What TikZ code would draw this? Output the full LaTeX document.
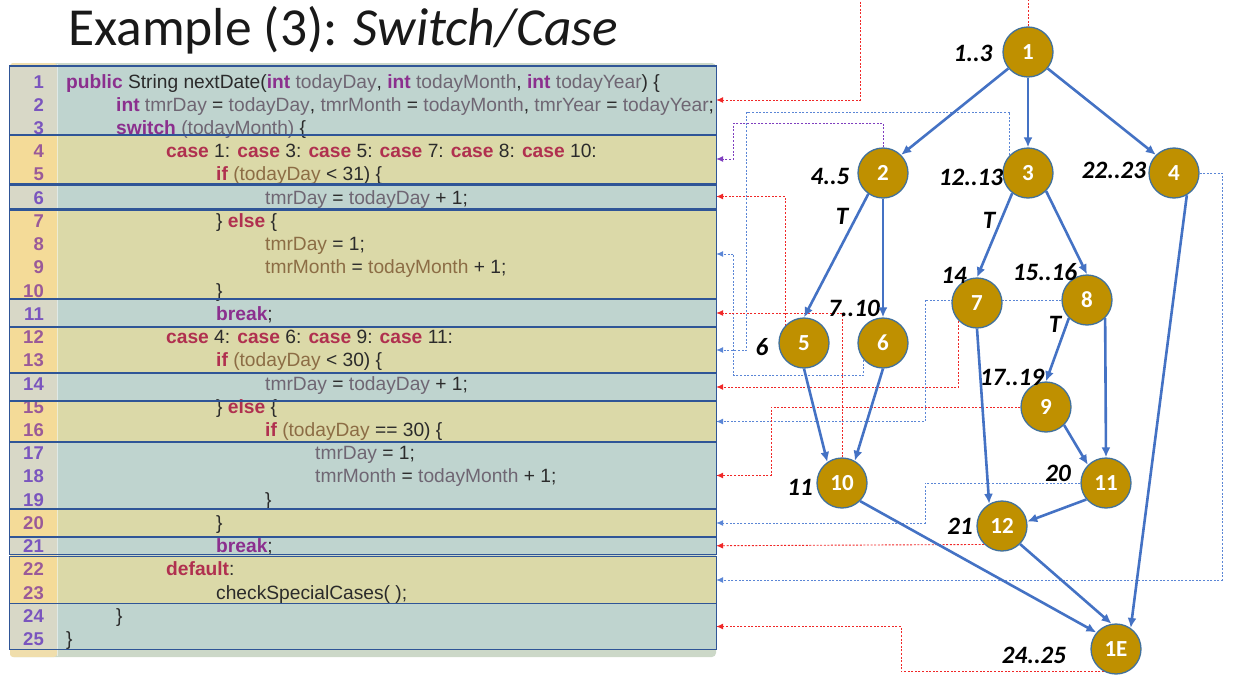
\documentclass[tikz,border=0pt]{standalone}
\usepackage{fontspec}
\setmainfont{Carlito}
\newfontfamily\codefont{Liberation Sans}
\usetikzlibrary{arrows.meta}
\pgfdeclarelayer{back}
\pgfsetlayers{back,main}
\definecolor{rowT}{HTML}{BFD4CF}
\definecolor{rowY}{HTML}{DBD9A8}
\definecolor{gutT}{HTML}{D8D8C7}
\definecolor{gutY}{HTML}{F4DB98}
\definecolor{panelbase}{HTML}{CCD8C8}
\definecolor{gutbase}{HTML}{F0DEAC}
\definecolor{boxline}{HTML}{2F5597}
\definecolor{kwP}{HTML}{8B2F8E}
\definecolor{kwR}{HTML}{B0304F}
\definecolor{idT}{HTML}{6F6673}
\definecolor{idY}{HTML}{8C6D45}
\definecolor{plain}{HTML}{2B2B2B}
\definecolor{numT}{HTML}{7A55BE}
\definecolor{numY}{HTML}{9A5A98}
\definecolor{nodefill}{HTML}{BF9000}
\definecolor{nodeline}{HTML}{41719C}
\definecolor{edgeblue}{HTML}{4472C4}
\definecolor{mapred}{HTML}{F02828}
\definecolor{mapblue}{HTML}{5B86D6}
\definecolor{mappurple}{HTML}{7F3FBF}
\newcommand\kP[1]{\textcolor{kwP}{\bfseries #1}}
\newcommand\kR[1]{\textcolor{kwR}{\bfseries #1}}
\newcommand\iT[1]{\textcolor{idT}{#1}}
\newcommand\iY[1]{\textcolor{idY}{#1}}
\begin{document}
\begin{tikzpicture}[x=1pt,y=-1pt,
  rowbox/.style={rectangle, inner sep=0pt, minimum width=706.5pt, draw=none},
  gut/.style={path picture={\fill[#1] (path picture bounding box.north west) rectangle ([xshift=47.5pt]path picture bounding box.south west);}},
  boxborder/.style={draw=boxline, line width=1.4pt},
  codetxt/.style={anchor=base west, inner sep=0pt, text=plain, font=\codefont\fontsize{19.2}{19.2}\selectfont},
  lnumT/.style={anchor=base east, inner sep=0pt, text=numT, font=\codefont\fontsize{18.5}{18.5}\selectfont\bfseries},
  lnumY/.style={anchor=base east, inner sep=0pt, text=numY, font=\codefont\fontsize{18.5}{18.5}\selectfont\bfseries},
  cfgnode/.style={circle, draw=nodeline, line width=1.3pt, fill=nodefill, minimum size=50pt, inner sep=0pt, text=white, font=\fontsize{23}{23}\selectfont\bfseries},
  cfgedge/.style={draw=edgeblue, line width=2.6pt, -{Latex[length=10pt,width=9pt]}},
  lbl/.style={inner sep=0pt, font=\fontsize{25}{25}\selectfont\bfseries\itshape},
  mapline/.style={line width=0.9pt, dash pattern=on 2pt off 1.6pt, -{Latex[length=7pt,width=6pt]}},
]
\useasboundingbox (0,0) rectangle (1240,680);

% title
\node[anchor=base west, inner sep=0pt, text=black!90, font=\fontsize{53.5}{53.5}\selectfont] (title) at (68,45) {Example (3): \textit{Switch/Case}};

% panel base
\fill[panelbase, rounded corners=4pt] (10,63) rectangle (716,657);
\fill[gutbase, rounded corners=3pt] (10,63) rectangle (57,657);

% row boxes (fills)
\node[rowbox, fill=rowT, gut=gutT, minimum height=68pt]   (bA) at (362.75,100) {};
\node[rowbox, fill=rowY, gut=gutY, minimum height=48pt]   (bB) at (362.75,159) {};
\node[rowbox, fill=rowT, gut=gutT, minimum height=23pt]   (bC) at (362.75,196.5) {};
\node[rowbox, fill=rowY, gut=gutY, minimum height=88pt]   (bD) at (362.75,254) {};
\node[rowbox, fill=rowT, gut=gutT, minimum height=28pt]   (bE) at (362.75,313) {};
\node[rowbox, fill=rowY, gut=gutY, minimum height=46pt]   (bF) at (362.75,350) {};
\node[rowbox, fill=rowT, gut=gutT, minimum height=28pt]   (bG) at (362.75,387) {};
\node[rowbox, fill=rowY, gut=gutY, minimum height=41pt]   (bH) at (362.75,421.5) {};
\node[rowbox, fill=rowT, gut=gutT, minimum height=67pt]   (bI) at (362.75,475.5) {};
\node[rowbox, fill=rowY, gut=gutY, minimum height=28pt]   (bJ) at (362.75,523) {};
\node[rowbox, fill=rowT, gut=gutT, minimum height=17.5pt] (bK) at (362.75,545.75) {};
\node[rowbox, fill=rowY, gut=gutY, minimum height=47pt]   (bL) at (362.75,580) {};
\node[rowbox, fill=rowT, gut=gutT, minimum height=46pt]   (bM) at (362.75,626.5) {};
\draw[white, opacity=0.5, line width=0.8pt] (57,64) -- (57,656);

% line numbers
\node[lnumT] (l1) at (44,88.0) {1};
\node[lnumT] (l2) at (44,111.2) {2};
\node[lnumT] (l3) at (44,134.5) {3};
\node[lnumY] (l4) at (44,157.7) {4};
\node[lnumY] (l5) at (44,180.9) {5};
\node[lnumT] (l6) at (44,204.2) {6};
\node[lnumY] (l7) at (44,227.4) {7};
\node[lnumY] (l8) at (44,250.6) {8};
\node[lnumY] (l9) at (44,273.8) {9};
\node[lnumY] (l10) at (44,297.1) {10};
\node[lnumT] (l11) at (44,320.3) {11};
\node[lnumY] (l12) at (44,343.5) {12};
\node[lnumY] (l13) at (44,366.8) {13};
\node[lnumT] (l14) at (44,390.0) {14};
\node[lnumY] (l15) at (44,413.2) {15};
\node[lnumY] (l16) at (44,436.5) {16};
\node[lnumT] (l17) at (44,459.7) {17};
\node[lnumT] (l18) at (44,482.9) {18};
\node[lnumT] (l19) at (44,506.1) {19};
\node[lnumY] (l20) at (44,529.4) {20};
\node[lnumT] (l21) at (44,552.6) {21};
\node[lnumY] (l22) at (44,575.8) {22};
\node[lnumY] (l23) at (44,599.1) {23};
\node[lnumT] (l24) at (44,622.3) {24};
\node[lnumT] (l25) at (44,645.5) {25};

% code lines
\node[codetxt] (c1) at (66,88.0) {\kP{public} String nextDate(\kP{int} \iT{todayDay}, \kP{int} \iT{todayMonth}, \kP{int} \iT{todayYear}) \{};
\node[codetxt] (c2) at (116,111.2) {\kP{int} \iT{tmrDay} = \iT{todayDay}, \iT{tmrMonth} = \iT{todayMonth}, \iT{tmrYear} = \iT{todayYear};};
\node[codetxt] (c3) at (116,134.5) {\kP{switch} \iT{(todayMonth)} \{};
\node[codetxt] (c4) at (166,157.7) {\kR{case} 1: \kR{case} 3: \kR{case} 5: \kR{case} 7: \kR{case} 8: \kR{case} 10:};
\node[codetxt] (c5) at (216,180.9) {\kR{if} \iY{(todayDay} < 31) \{};
\node[codetxt] (c6) at (265,204.2) {\iT{tmrDay} = \iT{todayDay} + 1;};
\node[codetxt] (c7) at (216,227.4) {\} \kR{else} \{};
\node[codetxt] (c8) at (265,250.6) {\iY{tmrDay} = 1;};
\node[codetxt] (c9) at (265,273.8) {\iY{tmrMonth} = \iY{todayMonth} + 1;};
\node[codetxt] (c10) at (216,297.1) {\}};
\node[codetxt] (c11) at (216,320.3) {\kP{break};};
\node[codetxt] (c12) at (166,343.5) {\kR{case} 4: \kR{case} 6: \kR{case} 9: \kR{case} 11:};
\node[codetxt] (c13) at (216,366.8) {\kR{if} \iY{(todayDay} < 30) \{};
\node[codetxt] (c14) at (265,390.0) {\iT{tmrDay} = \iT{todayDay} + 1;};
\node[codetxt] (c15) at (216,413.2) {\} \kR{else} \{};
\node[codetxt] (c16) at (265,436.5) {\kR{if} \iY{(todayDay} == 30) \{};
\node[codetxt] (c17) at (315,459.7) {\iT{tmrDay} = 1;};
\node[codetxt] (c18) at (315,482.9) {\iT{tmrMonth} = \iT{todayMonth} + 1;};
\node[codetxt] (c19) at (265,506.1) {\}};
\node[codetxt] (c20) at (216,529.4) {\}};
\node[codetxt] (c21) at (216,552.6) {\kP{break};};
\node[codetxt] (c22) at (166,575.8) {\kR{default}:};
\node[codetxt] (c23) at (216,599.1) {checkSpecialCases( );};
\node[codetxt] (c24) at (116,622.3) {\}};
\node[codetxt] (c25) at (66,645.5) {\}};

% box borders
\foreach \b in {bA,bB,bC,bD,bE,bF,bG,bH,bI,bJ,bK,bL,bM}
  \draw[boxborder] (\b.north west) rectangle (\b.south east);

% graph nodes
\node[cfgnode] (n1)  at (1028,52)  {1};
\node[cfgnode] (n2)  at (883,173)  {2};
\node[cfgnode] (n3)  at (1028,173) {3};
\node[cfgnode] (n4)  at (1174,173) {4};
\node[cfgnode] (n5)  at (804,343)  {5};
\node[cfgnode] (n6)  at (883,343)  {6};
\node[cfgnode] (n7)  at (977,303)  {7};
\node[cfgnode] (n8)  at (1087,300) {8};
\node[cfgnode] (n9)  at (1046,407) {9};
\node[cfgnode] (n10) at (842,483)  {10};
\node[cfgnode] (n11) at (1106,483) {11};
\node[cfgnode] (n12) at (1002,526) {12};
\node[cfgnode] (n1E) at (1116,649) {1E};

% node labels
\node[lbl] (t1)  at (973,53)   {1..3};
\node[lbl] (t2)  at (830,176)  {4..5};
\node[lbl] (t3)  at (971,177)  {12..13};
\node[lbl] (t4)  at (1114,170) {22..23};
\node[lbl] (t5)  at (762,347)  {6};
\node[lbl] (t6)  at (854,308)  {7..10};
\node[lbl] (t7)  at (954,275)  {14};
\node[lbl] (t8)  at (1045,272) {15..16};
\node[lbl] (t9)  at (1012,377) {17..19};
\node[lbl] (t10) at (800,487)  {11};
\node[lbl] (t11) at (1058,473) {20};
\node[lbl] (t12) at (960,526)  {21};
\node[lbl] (t13) at (1034,655) {24..25};
\node[lbl] (tT1) at (842,216)  {T};
\node[lbl] (tT2) at (989,220)  {T};
\node[lbl] (tT3) at (1055,324) {T};

% control flow edges
\draw[cfgedge] (n1.220) -- (n2.45);
\draw[cfgedge] (n1.south) -- (n3.north);
\draw[cfgedge] (n1.-40) -- (n4.135);
\draw[cfgedge] (n2.-125) -- (n5.north);
\draw[cfgedge] (n2.south) -- (n6.north);
\draw[cfgedge] (n3.-128) -- (n7.north);
\draw[cfgedge] (n3.-45) -- (n8.north);
\draw[cfgedge] (n4.-60) -- (n1E.55);
\draw[cfgedge] (n5.south) -- (n10.125);
\draw[cfgedge] (n6.south) -- (n10.60);
\draw[cfgedge] (n7.south) -- (n12.120);
\draw[cfgedge] (n8.-135) -- (n9.north);
\draw[cfgedge] (n8.-45) -- (n11.north);
\draw[cfgedge] (n9.-45) -- (n11.135);
\draw[cfgedge] (n10.-45) -- (n1E.140);
\draw[cfgedge] (n11.220) -- (n12.10);
\draw[cfgedge] (n12.-45) -- (n1E.100);

% mapping lines (behind nodes)
\begin{pgfonlayer}{back}
\draw[mapline, mapred]    (n1.north) |- (860,-10) |- (bA.east);
\draw[mapline, mappurple] (n2.north) |- (733.6,123) |- (bB.east);
\draw[mapline, mapred]    (n5.137) |- (bC.east);
\draw[mapline, mapblue]   (n6.222) |- (733.6,375) |- (bD.east);
\draw[mapline, mapred]    (n10.north) |- (bE.east);
\draw[mapline, mapblue]   (n3.135) |- (746.7,112) |- (bF.east);
\draw[mapline, mapred]    (n7.225) |- (bG.east);
\draw[mapline, mapblue]   (n8.west) -| (925,421.5) -- (bH.east);
\draw[mapline, mapred]    (n9.west) -| (771,475.5) -- (bI.east);
\draw[mapline, mapblue]   (n11.west) -| (925,523) -- (bJ.east);
\draw[mapline, mapred]    (n12.226) -- (bK.east);
\draw[mapline, mapblue]   (n4.east) -| (1222,580) -- (bL.east);
\draw[mapline, mapred]    (n1E.242) -| (901,626.5) -- (bM.east);
\end{pgfonlayer}
\end{tikzpicture}
\end{document}
